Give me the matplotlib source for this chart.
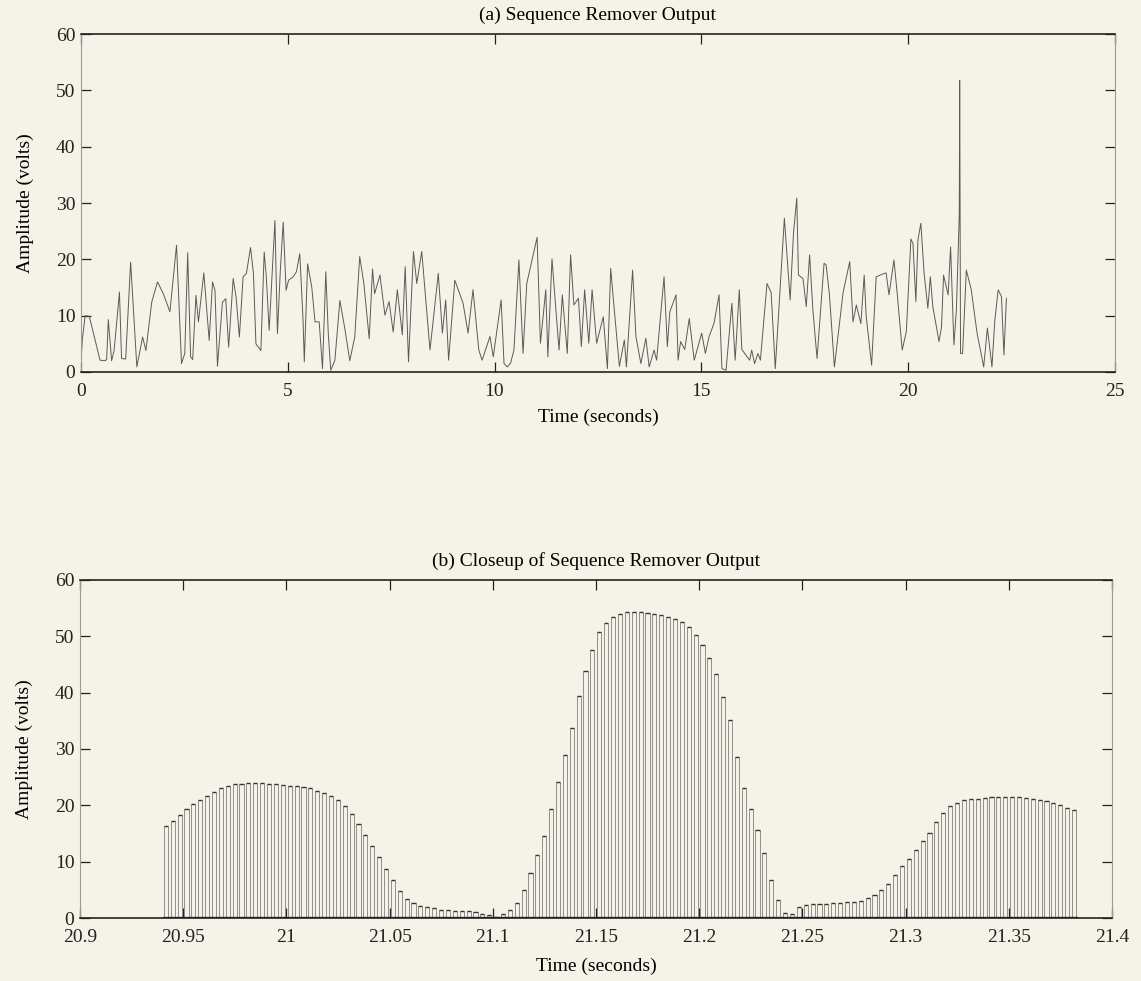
import numpy as np
import matplotlib.pyplot as plt

plt.rcParams['font.family'] = ['Liberation Serif', 'DejaVu Serif']
plt.rcParams['font.size'] = 14

# sequence remover output, read as (time, amplitude) pairs
t_full = [0.0, 0.03, 0.1, 0.2, 0.46, 0.58, 0.62, 0.66, 0.74, 0.8, 0.93, 0.98, 1.08, 1.2,
          1.35, 1.49, 1.57, 1.71, 1.85, 1.99, 2.15, 2.31, 2.43, 2.51, 2.58, 2.65, 2.7,
          2.78, 2.84, 2.97, 3.1, 3.18, 3.24, 3.3, 3.42, 3.5, 3.57, 3.68, 3.75, 3.83,
          3.92, 4.0, 4.1, 4.17, 4.23, 4.35, 4.43, 4.48, 4.55, 4.69, 4.75, 4.82, 4.89,
          4.96, 5.02, 5.13, 5.21, 5.29, 5.37, 5.4, 5.48, 5.58, 5.66, 5.76, 5.84, 5.92,
          5.98, 6.04, 6.14, 6.26, 6.38, 6.5, 6.62, 6.74, 6.84, 6.97, 7.05, 7.1, 7.23,
          7.35, 7.45, 7.55, 7.65, 7.77, 7.84, 7.92, 8.04, 8.12, 8.24, 8.44, 8.64, 8.74,
          8.82, 8.89, 9.04, 9.24, 9.36, 9.48, 9.62, 9.7, 9.89, 9.97, 10.16, 10.23,
          10.31, 10.39, 10.47, 10.59, 10.69, 10.78, 11.03, 11.11, 11.24, 11.29, 11.39,
          11.56, 11.64, 11.76, 11.84, 11.92, 12.03, 12.1, 12.18, 12.28, 12.36, 12.47,
          12.63, 12.73, 12.81, 12.89, 13.02, 13.14, 13.19, 13.34, 13.42, 13.54, 13.66,
          13.74, 13.86, 13.92, 14.1, 14.18, 14.24, 14.39, 14.44, 14.5, 14.6, 14.71,
          14.83, 15.01, 15.1, 15.19, 15.31, 15.43, 15.5, 15.6, 15.74, 15.82, 15.92,
          15.98, 16.05, 16.17, 16.22, 16.29, 16.37, 16.43, 16.59, 16.69, 16.79, 17.01,
          17.15, 17.23, 17.31, 17.35, 17.46, 17.54, 17.62, 17.7, 17.8, 17.97, 18.02,
          18.1, 18.22, 18.43, 18.59, 18.67, 18.75, 18.86, 18.94, 18.99, 19.12, 19.23,
          19.39, 19.47, 19.54, 19.66, 19.73, 19.86, 19.96, 20.07, 20.12, 20.19, 20.24,
          20.31, 20.39, 20.48, 20.54, 20.6, 20.75, 20.81, 20.86, 20.97, 21.03, 21.11,
          21.17, 21.24, 21.25, 21.27, 21.32, 21.41, 21.53, 21.67, 21.83, 21.92, 22.03,
          22.1, 22.18, 22.26, 22.32, 22.38]
v_full = [1.8, 5.6, 10.0, 9.9, 2.1, 2.0, 2.2, 9.3, 2.0, 3.8, 14.2, 2.4, 2.3, 19.5,
          0.9, 6.2, 3.8, 12.4, 16.0, 13.9, 10.7, 22.5, 1.5, 3.3, 21.2, 2.7, 2.2,
          13.6, 8.9, 17.6, 5.6, 16.0, 14.5, 1.0, 12.4, 13.0, 4.4, 16.6, 13.3, 6.2,
          16.9, 17.5, 22.1, 17.5, 5.0, 3.8, 21.3, 17.0, 7.4, 26.9, 6.8, 18.0, 26.6,
          14.5, 16.3, 16.9, 17.8, 21.0, 9.2, 1.8, 19.2, 15.1, 8.9, 8.9, 0.6, 17.8,
          6.8, 0.3, 2.1, 12.7, 7.7, 2.0, 6.2, 20.5, 15.7, 5.9, 18.3, 13.9, 17.2,
          10.1, 12.5, 7.1, 14.6, 6.6, 18.7, 1.8, 21.4, 15.7, 21.4, 3.9, 17.5, 6.9,
          12.8, 2.1, 16.3, 12.2, 6.9, 14.6, 3.9, 2.1, 6.3, 2.7, 12.8, 1.5,
          0.9, 1.6, 3.9, 19.9, 3.3, 15.7, 23.9, 5.1, 14.6, 2.7, 20.1,
          3.9, 13.7, 3.3, 20.8, 11.9, 13.1, 4.5, 14.6, 5.1, 14.6, 5.1,
          9.8, 0.6, 18.4, 11.6, 1.0, 5.7, 0.9, 18.1, 6.3, 1.5, 6.0,
          0.9, 3.9, 2.1, 16.9, 4.5, 10.7, 13.7, 2.1, 5.4, 4.0, 9.5,
          2.1, 6.9, 3.3, 6.3, 8.7, 13.7, 0.6, 0.3, 12.2, 2.1, 14.6,
          4.0, 3.3, 2.1, 3.9, 1.5, 3.3, 2.1, 15.7, 14.1, 0.6, 27.3,
          12.8, 24.6, 30.9, 17.2, 16.6, 11.6, 20.8, 11.0, 2.4, 19.3, 19.0,
          13.7, 0.9, 14.1, 19.6, 8.9, 11.9, 8.6, 17.2, 9.8, 1.2, 16.9,
          17.4, 17.6, 13.7, 19.9, 14.6, 3.9, 7.2, 23.6, 22.8, 12.5, 23.4,
          26.4, 17.5, 11.3, 16.9, 11.6, 5.4, 8.0, 17.2, 13.7, 22.2, 4.8,
          11.0, 28.0, 51.8, 3.3, 3.3, 18.1, 14.6, 6.9, 0.9, 7.8, 0.9,
          9.2, 14.6, 13.4, 3.0, 13.1]

# closeup: sampled output, one value per sample
t_start = 20.9406
dt = 1.0 / 300
v_close = [16.3, 17.3, 18.3, 19.3, 20.3, 21.0, 21.6, 22.4, 23.1, 23.5,
           23.7, 23.8, 23.9, 23.9, 23.9, 23.8, 23.7, 23.6, 23.5, 23.4,
           23.3, 23.0, 22.6, 22.2, 21.7, 21.0, 19.9, 18.5, 16.6, 14.7,
           12.8, 10.9, 8.7, 6.8, 4.8, 3.4, 2.7, 2.2, 1.9, 1.7,
           1.5, 1.4, 1.3, 1.3, 1.2, 1.1, 0.8, 0.5, 0.2, 0.8,
           1.4, 2.6, 5.0, 8.0, 11.2, 14.5, 19.3, 24.2, 29.0, 33.8,
           39.4, 43.8, 47.5, 50.7, 52.3, 53.4, 54.0, 54.3, 54.4, 54.3,
           54.2, 54.0, 53.8, 53.5, 53.1, 52.6, 51.6, 50.3, 48.5, 46.2,
           43.3, 39.3, 35.2, 28.5, 23.0, 19.3, 15.7, 11.5, 6.7, 3.2,
           0.9, 0.8, 1.9, 2.3, 2.4, 2.5, 2.5, 2.6, 2.7, 2.8,
           2.9, 3.1, 3.5, 4.0, 4.9, 6.0, 7.6, 9.2, 10.5, 12.1,
           13.7, 15.1, 17.0, 18.6, 19.8, 20.5, 20.9, 21.1, 21.2, 21.3,
           21.4, 21.4, 21.4, 21.4, 21.4, 21.3, 21.2, 21.0, 20.8, 20.5,
           20.1, 19.6, 19.1]

bg = '#f5f3e7'
ink = '#222222'

fig = plt.figure(figsize=(11.41, 9.81), dpi=100, facecolor=bg)
ax1 = fig.add_axes([0.071, 0.6208, 0.906, 0.3445], facecolor=bg)
ax2 = fig.add_axes([0.0701, 0.0642, 0.9045, 0.3446], facecolor=bg)

ax1.plot(t_full, v_full, color='#5a5a5a', lw=0.7)
ax1.set_xlim(0, 25)
ax1.set_ylim(0, 60)
ax1.set_xticks(np.arange(0, 26, 5))
ax1.set_yticks(np.arange(0, 61, 10))
ax1.set_title('(a) Sequence Remover Output', fontsize=14, pad=10)
ax1.set_xlabel('Time (seconds)', fontsize=14, labelpad=6)
ax1.set_ylabel('Amplitude (volts)', fontsize=14, labelpad=16)

# each sample drawn as a return-to-zero pulse: light sides, darker tops
w = 0.6 * dt
t_close = t_start + dt * np.arange(len(v_close))
ax2.vlines(t_close, 0, v_close, color='#808080', lw=0.6)
ax2.vlines(t_close + w, 0, v_close, color='#808080', lw=0.6)
ax2.hlines(v_close, t_close, t_close + w, color='#333333', lw=1.0)
# zero level between the pulses
ax2.plot([t_close[0], t_close[-1] + w], [0, 0], color=ink, lw=2.4)
ax2.set_xlim(20.9, 21.4)
ax2.set_ylim(0, 60)
bt = [20.9, 20.95, 21.0, 21.05, 21.1, 21.15, 21.2, 21.25, 21.3, 21.35, 21.4]
ax2.set_xticks(bt)
ax2.set_xticklabels(['%g' % b for b in bt])
ax2.set_yticks(np.arange(0, 61, 10))
ax2.set_title('(b) Closeup of Sequence Remover Output', fontsize=14, pad=10)
ax2.set_xlabel('Time (seconds)', fontsize=14, labelpad=8)
ax2.set_ylabel('Amplitude (volts)', fontsize=14, labelpad=16)

for ax in (ax1, ax2):
    ax.tick_params(direction='in', length=7, width=0.9, colors=ink,
                   top=True, right=True, labelsize=14)
    ax.tick_params(axis='x', pad=8)
    ax.tick_params(axis='y', pad=4)
    for side in ('top', 'bottom'):
        ax.spines[side].set_color(ink)
        ax.spines[side].set_linewidth(1.2)
    for side in ('left', 'right'):
        ax.spines[side].set_color('#9a9a9a')
        ax.spines[side].set_linewidth(0.8)

fig.savefig('out.png', dpi=100, facecolor=bg)
